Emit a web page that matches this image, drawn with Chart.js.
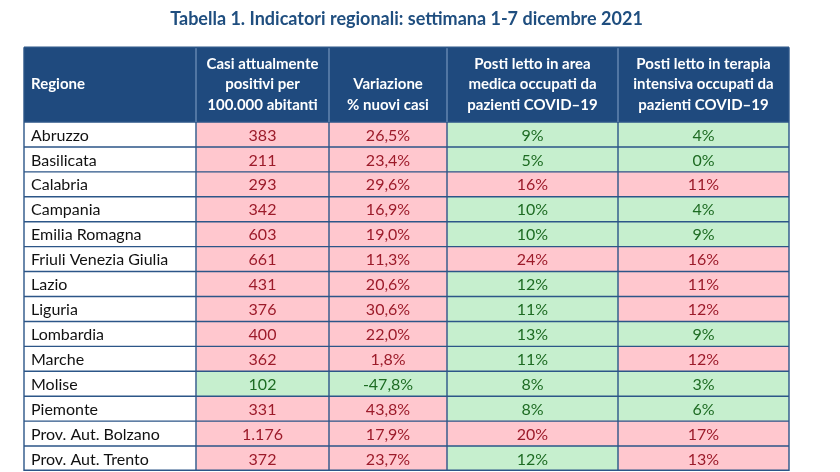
<!DOCTYPE html>
<html>
<head>
<meta charset="utf-8">
<script src="https://cdn.jsdelivr.net/npm/chart.js@4"></script>
<style>
html,body{margin:0;padding:0;background:#fff;}
#wrap{width:840px;height:472px;position:relative;}
</style>
</head>
<body>
<div id="wrap"><canvas id="c" width="840" height="472"></canvas></div>
<script>
// ---- data ----
const TITLE = 'Tabella 1. Indicatori regionali: settimana 1-7 dicembre 2021';
const regions = ['Abruzzo','Basilicata','Calabria','Campania','Emilia Romagna','Friuli Venezia Giulia','Lazio','Liguria','Lombardia','Marche','Molise','Piemonte','Prov. Aut. Bolzano','Prov. Aut. Trento'];
const casiPer100k = [383,211,293,342,603,661,431,376,400,362,102,331,1176,372];
const variazionePct = [26.5,23.4,29.6,16.9,19.0,11.3,20.6,30.6,22.0,1.8,-47.8,43.8,17.9,23.7];
const areaMedicaPct = [9,5,16,10,10,24,12,11,13,11,8,8,20,12];
const terapiaIntPct = [4,0,11,4,9,16,11,12,9,12,3,6,17,13];
const headers = [
  ['', 'Regione', ''],
  ['Casi attualmente', 'positivi per', '100.000 abitanti'],
  ['', 'Variazione', '% nuovi casi'],
  ['Posti letto in area', 'medica occupati da', 'pazienti COVID\u201319'],
  ['Posti letto in terapia', 'intensiva occupati da', 'pazienti COVID\u201319']
];
// cell status: true = critical (red), false = ok (green)
const casiCritical = [true,true,true,true,true,true,true,true,true,true,false,true,true,true];
const varCritical = variazionePct.map(v => v > 0);
const medicaCritical = areaMedicaPct.map(v => v > 15);
const tiCritical = terapiaIntPct.map(v => v > 10);

// ---- layout / style ----
const COL_WIDTHS = [172, 133, 118, 171, 171];
const HEADER_ROWS = 3;
const FONT = 'Lato, "Open Sans", sans-serif';
const C_HEAD = '#1f4a7e', C_LINE = '#2c5688', C_TITLE = '#1f4e7f';
const C_RED_BG = '#ffc7ce', C_RED_TX = '#9c1b2a';
const C_GRN_BG = '#c6efce', C_GRN_TX = '#1d6b22';

function fmtInt(v){ return String(v).replace(/\B(?=(\d{3})+(?!\d))/g, '.'); }
function fmtDec(v){ return v.toFixed(1).replace('.', ',') + '%'; }
function fmtPct(v){ return v + '%'; }

const columns = [
  { text: regions, crit: null },
  { text: casiPer100k.map(fmtInt), crit: casiCritical },
  { text: variazionePct.map(fmtDec), crit: varCritical },
  { text: areaMedicaPct.map(fmtPct), crit: medicaCritical },
  { text: terapiaIntPct.map(fmtPct), crit: tiCritical }
];

const datasets = columns.map((col, j) => ({
  label: headers[j].join(' ').trim(),
  data: regions.map(() => COL_WIDTHS[j]),
  backgroundColor: regions.map((_, i) => col.crit === null ? '#ffffff' : (col.crit[i] ? C_RED_BG : C_GRN_BG)),
  borderWidth: 0,
  barPercentage: 1,
  categoryPercentage: 1
}));

const tablePlugin = {
  id: 'tableDraw',
  afterDatasetsDraw(chart) {
    const ctx = chart.ctx, area = chart.chartArea, ys = chart.scales.y;
    const rowH = ys.getPixelForValue(1) - ys.getPixelForValue(0);
    const headTop = area.top - HEADER_ROWS * rowH;
    ctx.save();
    // title
    ctx.fillStyle = C_TITLE;
    ctx.font = 'bold 18px ' + FONT;
    ctx.textAlign = 'center';
    ctx.textBaseline = 'middle';
    ctx.fillText(TITLE, (area.left + area.right) / 2, 19);
    // header background
    ctx.fillStyle = C_HEAD;
    ctx.fillRect(area.left, headTop, area.right - area.left, area.top - headTop);
    const bounds = [];
    chart.data.datasets.forEach((ds, j) => {
      const meta = chart.getDatasetMeta(j);
      const b = meta.data[0];
      const left = Math.min(b.x, b.base), right = Math.max(b.x, b.base);
      bounds.push(left);
      if (j === chart.data.datasets.length - 1) bounds.push(right);
      // header text
      ctx.fillStyle = '#ffffff';
      ctx.font = 'bold 15px ' + FONT;
      ctx.textBaseline = 'middle';
      headers[j].forEach((line, k) => {
        if (!line) return;
        const yy = headTop + rowH * (k + 0.5) + (k - 1) * -4.5;
        if (j === 0) { ctx.textAlign = 'left'; ctx.fillText(line, left + 7, yy); }
        else { ctx.textAlign = 'center'; ctx.fillText(line, (left + right) / 2, yy); }
      });
      // cell text
      ctx.font = '16px ' + FONT;
      meta.data.forEach((bar, i) => {
        const col = columns[j];
        if (col.crit === null) {
          ctx.fillStyle = '#111111';
          ctx.textAlign = 'left';
          ctx.fillText(col.text[i], left + 7, bar.y + 1);
        } else {
          ctx.fillStyle = col.crit[i] ? C_RED_TX : C_GRN_TX;
          ctx.textAlign = 'center';
          ctx.fillText(col.text[i], (left + right) / 2, bar.y + 1);
        }
      });
    });
    // grid lines
    ctx.strokeStyle = C_LINE;
    ctx.lineWidth = 1.4;
    ctx.beginPath();
    for (let i = 0; i <= regions.length; i++) {
      const yy = i === regions.length ? area.bottom - 0.7 : ys.getPixelForValue(i) - rowH / 2;
      ctx.moveTo(area.left, yy); ctx.lineTo(area.right, yy);
    }
    bounds.forEach(x => { ctx.moveTo(x, headTop); ctx.lineTo(x, area.bottom); });
    ctx.moveTo(area.left, headTop); ctx.lineTo(area.right, headTop);
    ctx.stroke();
    // separators inside header slightly lighter
    ctx.strokeStyle = '#6f8fb8';
    ctx.lineWidth = 1.2;
    ctx.beginPath();
    bounds.slice(1, -1).forEach(x => { ctx.moveTo(x, headTop + 1); ctx.lineTo(x, area.top); });
    ctx.stroke();
    ctx.restore();
  }
};

new Chart(document.getElementById('c'), {
  type: 'bar',
  data: { labels: regions, datasets },
  options: {
    indexAxis: 'y',
    responsive: false,
    animation: false,
    devicePixelRatio: 1,
    layout: { padding: { left: 24, right: 51, top: 122, bottom: 1 } },
    plugins: { legend: { display: false }, tooltip: { enabled: false }, title: { display: false } },
    scales: {
      x: { stacked: true, display: false, min: 0, max: COL_WIDTHS.reduce((a, b) => a + b, 0) },
      y: { stacked: true, display: false }
    }
  },
  plugins: [tablePlugin]
});
</script>
</body>
</html>
